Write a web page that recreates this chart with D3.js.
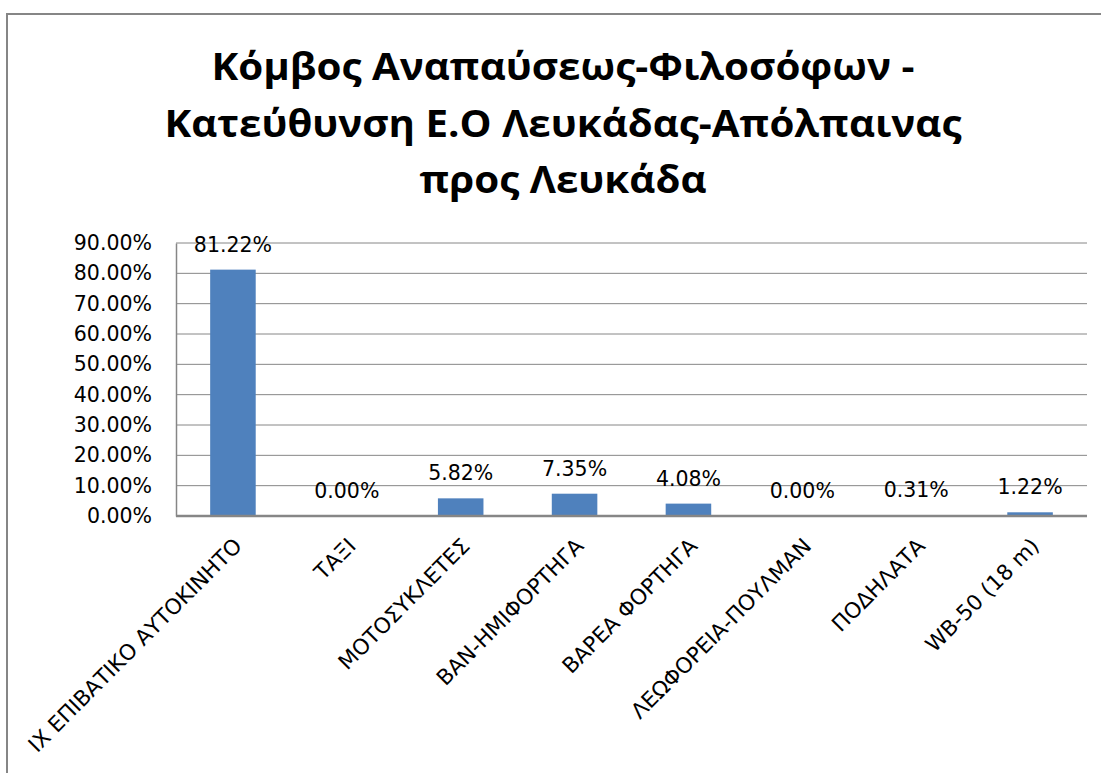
<!DOCTYPE html>
<html>
<head>
<meta charset="utf-8">
<script src="https://cdn.jsdelivr.net/npm/d3@7"></script>
<style>
  body { margin: 0; background: #fff; }
  text { font-family: "DejaVu Sans", sans-serif; fill: #000; }
</style>
</head>
<body>
<script>
// chart data
var titleLines = ['Κόμβος Αναπαύσεως-Φιλοσόφων -', 'Κατεύθυνση Ε.Ο Λευκάδας-Απόλπαινας', 'προς Λευκάδα'];
var categories = ['ΙΧ ΕΠΙΒΑΤΙΚΟ ΑΥΤΟΚΙΝΗΤΟ', 'ΤΑΞΙ', 'ΜΟΤΟΣΥΚΛΕΤΕΣ', 'ΒΑΝ-ΗΜΙΦΟΡΤΗΓΑ', 'ΒΑΡΕΑ ΦΟΡΤΗΓΑ', 'ΛΕΩΦΟΡΕΙΑ-ΠΟΥΛΜΑΝ', 'ΠΟΔΗΛΑΤΑ', 'WB-50 (18 m)'];
var values = [81.22, 0.00, 5.82, 7.35, 4.08, 0.00, 0.31, 1.22];
var yTicks = [0, 10, 20, 30, 40, 50, 60, 70, 80, 90];

var W = 1101, H = 773;
var m = {left: 176, right: 1087, top: 243, bottom: 516};

var svg = d3.select('body').append('svg')
  .attr('width', W)
  .attr('height', H);

// outer chart frame (runs past the window on right/bottom)
svg.append('rect')
  .attr('x', 7).attr('y', 14)
  .attr('width', W + 20).attr('height', H + 20)
  .attr('fill', 'none')
  .attr('stroke', '#868686')
  .attr('stroke-width', 2);

// title - squeezed to the widths of the original lines
var titleW = [703, 797, 287];
svg.append('g').selectAll('text').data(titleLines).enter().append('text')
  .attr('x', 563)
  .attr('y', function(d, i) { return [80, 137, 193][i]; })
  .attr('text-anchor', 'middle')
  .attr('textLength', function(d, i) { return titleW[i]; })
  .attr('lengthAdjust', 'spacingAndGlyphs')
  .style('font-family', '"Open Sans", sans-serif')
  .style('font-size', '37px')
  .style('font-weight', 'bold')
  .text(function(d) { return d; });

var x = d3.scaleBand().domain(categories).range([m.left, m.right]).paddingInner(0.6).paddingOuter(0.3);
var y = d3.scaleLinear().domain([0, 90]).range([m.bottom, m.top]);

// gridlines
svg.append('g')
  .selectAll('line').data(yTicks.slice(1)).enter().append('line')
  .attr('x1', m.left).attr('x2', m.right)
  .attr('y1', function(d) { return y(d); })
  .attr('y2', function(d) { return y(d); })
  .attr('stroke', '#868686')
  .attr('stroke-width', 1);

// y axis
var yAxis = svg.append('g')
  .attr('transform', 'translate(' + m.left + ',0)')
  .call(d3.axisLeft(y).tickValues(yTicks).tickSize(0).tickPadding(24)
    .tickFormat(function(d) { return d.toFixed(2) + '%'; }));
yAxis.select('.domain').attr('stroke', '#868686').attr('stroke-width', 1.5);
yAxis.selectAll('text')
  .style('font-size', '20.5px')
  .style('font-family', '"DejaVu Sans", sans-serif')
  .attr('fill', '#000');

// bars
svg.append('g')
  .selectAll('rect').data(values).enter().append('rect')
  .attr('x', function(d, i) { return x(categories[i]); })
  .attr('width', x.bandwidth())
  .attr('y', function(d) { return y(d); })
  .attr('height', function(d) { return m.bottom - y(d); })
  .attr('fill', '#4F81BD');

// x axis baseline
svg.append('line')
  .attr('x1', m.left).attr('x2', m.right)
  .attr('y1', m.bottom).attr('y2', m.bottom)
  .attr('stroke', '#868686')
  .attr('stroke-width', 2.5);

// data labels
svg.append('g')
  .selectAll('text').data(values).enter().append('text')
  .attr('x', function(d, i) { return x(categories[i]) + x.bandwidth() / 2; })
  .attr('y', function(d) { return y(d) - 18; })
  .attr('text-anchor', 'middle')
  .style('font-size', '20.5px')
  .text(function(d) { return d.toFixed(2) + '%'; });

// category labels
svg.append('g')
  .selectAll('text').data(categories).enter().append('text')
  .attr('transform', function(d) {
    return 'translate(' + (x(d) + x.bandwidth() / 2 + 5) + ',' + (m.bottom + 26) + ') rotate(-45)';
  })
  .attr('text-anchor', 'end')
  .attr('dy', '0.35em')
  .style('font-size', '21.5px')
  .text(function(d) { return d; });
</script>
</body>
</html>
